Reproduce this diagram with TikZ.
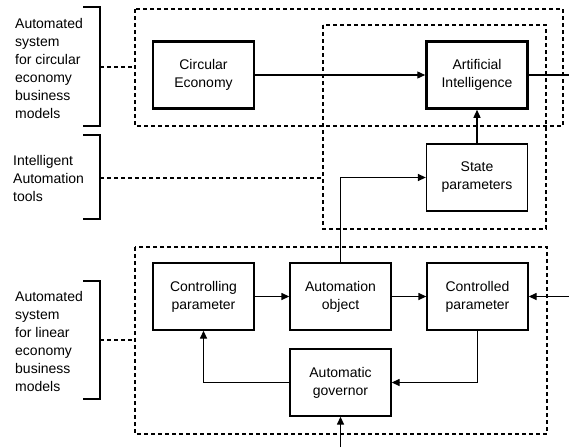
\documentclass[tikz,border=0pt]{standalone}
\usepackage{fontspec}
\setmainfont{Liberation Sans}
\usetikzlibrary{arrows.meta}
\begin{document}
\begin{tikzpicture}[x=1pt,y=-1pt,
  txt/.style={font=\fontsize{14}{18}\selectfont},
  block/.style={draw, line width=1.3pt, minimum width=101pt, minimum height=67pt,
                align=center, inner sep=2pt, txt},
  keyblock/.style={block, line width=2.5pt},
  group/.style={draw, line width=1.2pt, dash pattern=on 4pt off 3pt},
  flow/.style={line width=1.3pt, -{Triangle[length=8pt,width=7pt]}},
  link/.style={line width=1.3pt},
  brace/.style={line width=1.3pt},
  caption/.style={align=left, anchor=west, inner sep=0pt, txt}]
\useasboundingbox (0,0) rectangle (569,447);

% dashed subsystem frames
\draw[group] (135,9) rectangle (563,126);
\draw[group] (323,25) rectangle (546,229);
\draw[group] (135,247) rectangle (547,434);

% blocks
\node[keyblock] (ce) at (203.5,75) {Circular\\Economy};
\node[keyblock] (ai) at (477,75) {Artificial\\Intelligence};
\node[block] (sp) at (477,177.5) {State\\parameters};
\node[block] (cp) at (203.5,296.5) {Controlling\\parameter};
\node[block] (ao) at (340.5,296.5) {Automation\\object};
\node[block] (cd) at (477.5,296.5) {Controlled\\parameter};
\node[block] (ag) at (340.5,382.5) {Automatic\\governor};

% free ends of the external connectors
\coordinate (outR) at (569,75);
\coordinate (inR) at (569,296.5);
\coordinate (inB) at (340.5,447);

% connectors
\draw[flow] (ce) -- (ai);
\draw[link] (ai.east) -- (outR);
\draw[flow] (sp) -- (ai);
\draw[flow] (ao.north) |- (sp.west);
\draw[flow] (cp) -- (ao);
\draw[flow] (ao) -- (cd);
\draw[flow] (inR) -- (cd.east);
\draw[flow] (cd.south) |- (ag.east);
\draw[flow] (ag.west) -| (cp.south);
\draw[flow] (inB) -- (ag.south);

% side captions with brackets
\node[caption] (c1) at (15,68) {Automated\\system\\for circular\\economy\\business\\models};
\draw[brace] (83,7) -- (100,7) -- (100,126) -- (83,126);
\coordinate (b1) at (100,67);
\coordinate (g1) at (135,67);
\draw[group] (b1) -- (g1);

\node[caption] (c2) at (13,178) {Intelligent\\Automation\\tools};
\draw[brace] (83,135) -- (100,135) -- (100,219) -- (83,219);
\coordinate (b2) at (100,178);
\coordinate (g2) at (323,178);
\draw[group] (b2) -- (g2);

\node[caption] (c3) at (15,341) {Automated\\system\\for linear\\economy\\business\\models};
\draw[brace] (83,281) -- (100,281) -- (100,399) -- (83,399);
\coordinate (b3) at (100,340);
\coordinate (g3) at (135,340);
\draw[group] (b3) -- (g3);
\end{tikzpicture}
\end{document}
